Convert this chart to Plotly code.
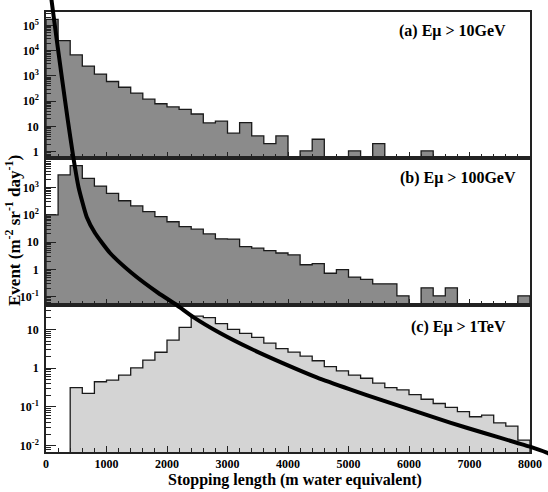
import plotly.graph_objects as go

# ---------------- data ----------------
bin_edges = list(range(0, 8001, 200))  # stopping length (m w.e.), 40 bins

# (a) Emu > 10 GeV
events_a = [1.74e5, 2.5e4, 6.8e3, 2.45e3, 1.18e3, 600, 355, 209, 120, 79,
            59, 47, 31, 13.8, 16.2, 5.4, 14.1, 4.2, 2.1, 4.2,
            0, 1.07, 3.1, 0, 0, 1.07, 0, 2.1, 0, 0,
            0, 1.07, 0, 0, 0, 0, 0, 0, 0, 0]

# (b) Emu > 100 GeV
events_b = [100, 2950, 6450, 2190, 1150, 617, 331, 214, 132, 87,
            56, 37, 30, 20, 13.2, 13, 6.9, 6.0, 4.9, 4.0,
            3.4, 1.48, 1.62, 0.72, 0.98, 0.52, 0.43, 0.295, 0.295, 0.107,
            0, 0.21, 0.107, 0.21, 0, 0, 0, 0, 0, 0.107]

# (c) Emu > 1 TeV
events_c = [0, 0, 0.316, 0.224, 0.447, 0.49, 0.66, 1.02, 1.62, 2.57,
            5.25, 11.2, 21.9, 20, 14.1, 10, 7.9, 6.2, 4.4, 3.2,
            2.6, 2.04, 1.55, 1.10, 0.85, 0.66, 0.55, 0.41, 0.316, 0.275,
            0.209, 0.158, 0.123, 0.098, 0.076, 0.056, 0.062, 0.039, 0.032, 0.014]

# overlaid black curve (read on the scale of panel (c), extended through all panels)
curve_x = [69, 91, 178, 268, 360, 451, 537, 673, 810, 1058, 1417, 1856, 2160,
           2435, 2876, 3372, 3922, 4474, 5025, 5575, 6127, 6678, 7228, 7780,
           8000, 8276, 8363]
curve_y = [5.56e9, 3.07e9, 2.86e8, 2.66e7, 2.48e6, 2.76e5, 4.66e4, 7.83e3, 3.03e3,
           925, 282, 86.3, 42.3, 20.7, 8.04, 3.24, 1.33, 0.579, 0.284, 0.1445,
           0.0752, 0.0392, 0.0216, 0.01194, 0.00942, 0.00661, 0.00575]

panel_labels = ["(a) E\u03bc > 10GeV", "(b) E\u03bc > 100GeV", "(c) E\u03bc > 1TeV"]
x_ticks = [0, 1000, 2000, 3000, 4000, 5000, 6000, 7000, 8000]
x_title = "Stopping length (m water equivalent)"
y_title = "Event (m<sup>-2</sup> sr<sup>-1</sup> day<sup>-1</sup>)"

# ---------------- geometry / style ----------------
W, H = 548, 492
FONT = "Liberation Serif"
x_dom = [46 / W, 530 / W]
panel_px = [(12, 158), (158, 304.5), (304.5, 452)]
y_ranges = [[-0.25, 5.53], [-1.29, 4.09], [-2.16, 1.64]]
decades = [range(0, 6), range(-1, 4), range(-2, 2)]
fills = ["#8b8b8b", "#8b8b8b", "#d4d4d4"]
BASE = 1e-8


def step_polygon(edges, vals):
    xs, ys = [edges[0]], [BASE]
    for i, v in enumerate(vals):
        h = v if v > 0 else BASE
        xs += [edges[i], edges[i + 1]]
        ys += [h, h]
    xs.append(edges[-1])
    ys.append(BASE)
    return xs, ys


def dec_label(k):
    if k == 0:
        return "<b>1</b>"
    if k == 1:
        return "<b>10</b>"
    return "<b>10<sup>%d</sup></b>" % k


fig = go.Figure()
for i, vals in enumerate([events_a, events_b, events_c]):
    xs, ys = step_polygon(bin_edges, vals)
    sfx = "" if i == 0 else str(i + 1)
    fig.add_trace(go.Scatter(x=xs, y=ys, mode="lines", fill="toself",
                             fillcolor=fills[i],
                             line=dict(color="#1a1a1a", width=1.3),
                             xaxis="x" + sfx, yaxis="y" + sfx,
                             hoverinfo="skip", showlegend=False))

fig.add_trace(go.Scatter(x=curve_x, y=curve_y, mode="lines",
                         line=dict(color="black", width=4, shape="spline", smoothing=0.5),
                         xaxis="x4", yaxis="y4", hoverinfo="skip", showlegend=False))

tickfont = dict(family=FONT, size=12, color="black")
layout = dict(template="none", width=W, height=H, autosize=False,
              margin=dict(l=0, r=0, t=0, b=0, pad=0),
              paper_bgcolor="white", plot_bgcolor="rgba(0,0,0,0)",
              showlegend=False)

for i in range(3):
    sfx = "" if i == 0 else str(i + 1)
    top, bot = panel_px[i]
    ydom = [1 - bot / H, 1 - top / H]
    minor_vals = [m * 10 ** k for k in range(int(y_ranges[i][0]) - 1, int(y_ranges[i][1]) + 1)
                  for m in range(2, 10)]
    layout["xaxis" + sfx] = dict(
        domain=x_dom, anchor="y" + sfx, range=[0, 8000], automargin=False,
        showline=True, linecolor="#222", linewidth=1.5, mirror=True,
        showgrid=False, zeroline=False,
        ticks="inside", ticklen=6, tickwidth=1, tickcolor="#222",
        tickmode="array", tickvals=x_ticks,
        ticktext=["<b>%d</b>" % v for v in x_ticks],
        showticklabels=(i == 2), tickfont=tickfont,
        minor=dict(ticks="inside", ticklen=4, tickwidth=1, tickcolor="#222",
                   dtick=200, tick0=0, showgrid=False))
    layout["yaxis" + sfx] = dict(
        domain=ydom, anchor="x" + sfx, type="log", range=y_ranges[i], automargin=False,
        showline=True, linecolor="#222", linewidth=1.5, mirror=True,
        showgrid=False, zeroline=False,
        ticks="inside", ticklen=10, tickwidth=1, tickcolor="#222",
        tickmode="array", tickvals=[10 ** k for k in decades[i]],
        ticktext=[dec_label(k) for k in decades[i]],
        tickfont=tickfont, ticklabelstandoff=3,
        minor=dict(ticks="inside", ticklen=5, tickwidth=1, tickcolor="#222",
                   tickmode="array", tickvals=minor_vals, showgrid=False))

# full-figure overlay axes on which the curve is drawn (panel (c) scale)
layout["xaxis4"] = dict(domain=[0, 1], anchor="y4", range=[-760.3, 8297.5],
                        visible=False, automargin=False)
layout["yaxis4"] = dict(domain=[0, 1], anchor="x4", type="log", range=[-3.193, 9.487],
                        visible=False, automargin=False)

label_pos = [(508, 31), (518, 178), (508, 327)]
annotations = []
for (px, py), txt in zip(label_pos, panel_labels):
    annotations.append(dict(x=px / W, y=1 - py / H, xref="paper", yref="paper",
                            xanchor="right", yanchor="middle", showarrow=False,
                            text="<b>%s</b>" % txt,
                            font=dict(family=FONT, size=16, color="black")))
annotations.append(dict(x=295 / W, y=1 - 480 / H, xref="paper", yref="paper",
                        xanchor="center", yanchor="middle", showarrow=False,
                        text="<b>%s</b>" % x_title,
                        font=dict(family=FONT, size=16, color="black")))
annotations.append(dict(x=13 / W, y=1 - 231 / H, xref="paper", yref="paper",
                        xanchor="center", yanchor="middle", showarrow=False,
                        textangle=-90, text="<b>%s</b>" % y_title,
                        font=dict(family=FONT, size=17, color="black")))
layout["annotations"] = annotations

fig.update_layout(**layout)
fig.write_html("out.html")
